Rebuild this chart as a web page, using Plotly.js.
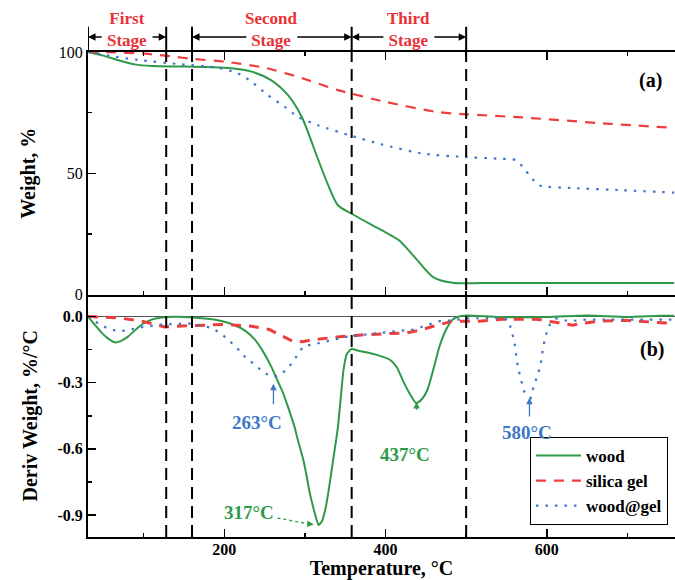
<!DOCTYPE html>
<html>
<head>
<meta charset="utf-8">
<script src="https://cdn.plot.ly/plotly-3.0.1.min.js"></script>
<style>html,body{margin:0;padding:0;background:#fff;}#chart{width:675px;height:580px;}</style>
</head>
<body>
<div id="chart"></div>
<script>
// ---------- data ----------
const seriesNames = ['wood', 'silica gel', 'wood@gel'];

// TG (Weight, %)
const woodTG_T = [31,50,70,89,110,151,201,234,258,279,296,316,329,341,358,384,399,417,438,459,483,520,600,700,758];
const woodTG_W = [100,98.5,96.5,94.9,94.2,94.0,93.5,91.9,88.4,82.2,73.3,56,45,36.8,33.3,28.5,25.8,22.3,14.7,7.2,4.8,4.7,4.7,4.7,4.7];

const silicaTG_T = [31,58,102,137,159,201,250,291,341,399,463,500,570,673,758];
const silicaTG_W = [100,99.9,99.3,98.1,97.2,96.0,93.5,89.8,84.3,79.5,75.3,74.3,73,70.5,68.7];

const wgTG_T = [31,60,93,147,192,217,234,254,275,291,316,358,394,446,496,540,562,572,580,591,632,694,758];
const wgTG_W = [100,98.3,96.7,94.9,93.5,91.2,87.7,82.2,77.4,73.3,69.8,65.4,62,58.1,56.7,56,55.4,51.9,48.5,45,43.9,43,42];

// DTG (Deriv Weight, %/°C)
const woodDTG_T = [31,40,48,56,64,72,81,90,98,110,120,151,192,210,227,238,248,258,266,273,280,287,292,298,302,306,310,314,317,321,325,329,335,341,345,348,352,358,366,376,390,405,414,421,430,438,445,452,460,467,475,483,491,500,541,600,640,660,700,740,758];
const woodDTG_D = [0,-0.04,-0.074,-0.1,-0.117,-0.11,-0.09,-0.06,-0.036,-0.014,-0.005,-0.002,-0.017,-0.035,-0.067,-0.105,-0.158,-0.225,-0.29,-0.347,-0.42,-0.499,-0.57,-0.65,-0.72,-0.8,-0.86,-0.915,-0.945,-0.93,-0.88,-0.8,-0.65,-0.5,-0.347,-0.24,-0.17,-0.147,-0.155,-0.162,-0.175,-0.195,-0.23,-0.286,-0.35,-0.392,-0.375,-0.332,-0.23,-0.135,-0.06,-0.014,0.0,0.005,-0.002,-0.002,0.004,0.004,-0.002,0.004,0.004];

const silicaDTG_T = [31,50,69,98,126,159,201,234,256,270,285,297,310,343,376,426,445,459,483,516,545,587,615,632,640,665,698,739,758];
const silicaDTG_D = [0,-0.003,-0.006,-0.021,-0.047,-0.041,-0.036,-0.044,-0.059,-0.085,-0.112,-0.114,-0.105,-0.092,-0.082,-0.074,-0.06,-0.044,-0.021,-0.021,-0.012,-0.012,-0.029,-0.039,-0.033,-0.021,-0.017,-0.029,-0.032];

const wgDTG_T = [31,44,56,69,81,93,122,159,184,195,205,215,225,238,250,258,263,271,280,287,298,318,351,393,434,467,483,500,537,552,556,560,564,568,572,576,580,584,589,593,595,598,602,611,628,648,681,706,731,758];
const wgDTG_D = [0,-0.032,-0.055,-0.067,-0.062,-0.051,-0.036,-0.032,-0.051,-0.075,-0.105,-0.14,-0.18,-0.22,-0.256,-0.27,-0.272,-0.26,-0.23,-0.195,-0.135,-0.12,-0.092,-0.074,-0.059,-0.021,-0.017,-0.009,-0.006,-0.014,-0.059,-0.12,-0.226,-0.286,-0.34,-0.36,-0.37,-0.312,-0.264,-0.203,-0.15,-0.097,-0.044,-0.009,-0.021,-0.014,-0.014,-0.014,-0.014,-0.014];

// stages (°C)
const stageBounds = [[31,128],[160,358],[358,500]];
const stageNames = ['First', 'Second', 'Third'];
const dashedLines = [128, 160, 358, 500];

// ticks
const xTickVals = [200, 400, 600];
const xTickText = ['200', '400', '600'];
const yTopTickVals = [0, 50, 100];
const yTopTickText = ['0', '50', '100'];
const yBotTickVals = [-0.9, -0.6, -0.3, 0];
const yBotTickText = ['-0.9', '-0.6', '-0.3', '0.0'];

// peak labels
const peakLabels = ['263°C', '317°C', '437°C', '580°C'];

// ---------- styles ----------
const FONT = 'Liberation Serif, Times New Roman, serif';
const GREEN = '#2e9a48';
const RED = '#ee3d3d';
const BLUE = '#3d77c6';
const STAGE_RED = '#e83238';

const traces = [
  {x: woodTG_T, y: woodTG_W, name: seriesNames[0], mode: 'lines', line: {color: GREEN, width: 2, shape: 'spline', smoothing: 0.8}, xaxis: 'x', yaxis: 'y', legendrank: 1},
  {x: silicaTG_T, y: silicaTG_W, name: seriesNames[1], mode: 'lines', line: {color: RED, width: 2.2, dash: '10px,8px', shape: 'spline', smoothing: 0.6}, xaxis: 'x', yaxis: 'y', legendrank: 2},
  {x: wgTG_T, y: wgTG_W, name: seriesNames[2], mode: 'lines', line: {color: BLUE, width: 2.2, dash: '2.5px,7px', shape: 'spline', smoothing: 0.6}, xaxis: 'x', yaxis: 'y', legendrank: 3},
  {x: woodDTG_T, y: woodDTG_D, name: seriesNames[0], mode: 'lines', line: {color: GREEN, width: 2, shape: 'spline', smoothing: 0.6}, xaxis: 'x2', yaxis: 'y2', showlegend: false},
  {x: silicaDTG_T, y: silicaDTG_D, name: seriesNames[1], mode: 'lines', line: {color: RED, width: 3, dash: '10px,8px'}, xaxis: 'x2', yaxis: 'y2', showlegend: false},
  {x: wgDTG_T, y: wgDTG_D, name: seriesNames[2], mode: 'lines', line: {color: BLUE, width: 2.2, dash: '2.5px,7px'}, xaxis: 'x2', yaxis: 'y2', showlegend: false}
];

const shapes = [];
dashedLines.forEach(t => {
  shapes.push({type: 'line', xref: 'x', yref: 'paper', x0: t, x1: t, y0: 0, y1: 1,
    line: {color: 'black', width: 2, dash: '12px,7px'}});
});
// solid stage markers above the plot
const markerSet = [];
stageBounds.forEach(b => { b.forEach(v => { if (markerSet.indexOf(v) < 0) markerSet.push(v); }); });
markerSet.forEach(t => {
  shapes.push({type: 'line', xref: 'x', yref: 'paper', x0: t, x1: t, y0: 1, y1: 1.052,
    line: {color: 'black', width: 2}});
});
// dotted arrow line for 317 °C
shapes.push({type: 'line', xref: 'x2', yref: 'y2', x0: 266, y0: -0.914, x1: 304, y1: -0.94,
  line: {color: GREEN, width: 1.3, dash: 'dot'}});

const annotations = [];
const ARROW_Y = 1.031;
stageBounds.forEach((b, i) => {
  const c = (b[0] + b[1]) / 2;
  [b[0], b[1]].forEach(h => {
    annotations.push({xref: 'x', yref: 'paper', x: h, y: ARROW_Y, axref: 'x', ayref: 'pixel',
      ax: c, ay: 0, text: '', showarrow: true, arrowhead: 2, arrowsize: 1, arrowwidth: 1.5,
      arrowcolor: 'black', startstandoff: 24, standoff: 0});
  });
  annotations.push({xref: 'x', yref: 'paper', x: c, y: 1.046, text: stageNames[i] + '<br>Stage',
    showarrow: false, xanchor: 'center', yanchor: 'middle',
    font: {family: FONT, size: 17, color: STAGE_RED, weight: 'bold'}});
});

function peakText(x, y, txt, color) {
  annotations.push({xref: 'x2', yref: 'y2', x: x, y: y, text: txt, showarrow: false,
    xanchor: 'center', yanchor: 'middle', font: {family: FONT, size: 19, color: color, weight: 'bold'}});
}
function peakArrow(x, y, ax, ay, color) {
  annotations.push({xref: 'x2', yref: 'y2', x: x, y: y, axref: 'x2', ayref: 'y2', ax: ax, ay: ay,
    text: '', showarrow: true, arrowhead: 2, arrowsize: 1, arrowwidth: 1.3, arrowcolor: color, standoff: 0});
}
peakText(240, -0.482, peakLabels[0], BLUE);
peakArrow(261, -0.305, 261, -0.405, BLUE);
peakText(231, -0.891, peakLabels[1], GREEN);
peakArrow(311, -0.943, 302, -0.94, GREEN);
peakText(424, -0.627, peakLabels[2], GREEN);
peakArrow(438.5, -0.388, 438.5, -0.43, GREEN);
peakText(576, -0.527, peakLabels[3], BLUE);
peakArrow(578.5, -0.368, 578.5, -0.46, BLUE);

annotations.push({xref: 'x', yref: 'y', x: 729, y: 88.4, text: '(a)', showarrow: false,
  font: {family: FONT, size: 20, color: 'black', weight: 'bold'}});
annotations.push({xref: 'x2', yref: 'y2', x: 731, y: -0.15, text: '(b)', showarrow: false,
  font: {family: FONT, size: 20, color: 'black', weight: 'bold'}});

const xRange = [31, 759];
const axisCommon = {showgrid: false, zeroline: false, showline: true, linecolor: 'black', linewidth: 2,
  ticks: 'inside', ticklen: 8, tickwidth: 1.5, tickcolor: 'black'};

const layout = {
  width: 675, height: 580,
  margin: {l: 88, r: 0, t: 52, b: 43},
  paper_bgcolor: 'white', plot_bgcolor: 'white',
  font: {family: FONT, color: 'black'},
  showlegend: true,
  legend: {x: 0.988, y: 0.025, xanchor: 'right', yanchor: 'bottom', bgcolor: 'white',
    bordercolor: 'black', borderwidth: 1, itemwidth: 45, tracegroupgap: 0,
    font: {family: FONT, size: 17, color: 'black', weight: 'bold'}},
  xaxis: Object.assign({}, axisCommon, {domain: [0, 1], anchor: 'y', range: xRange,
    tickmode: 'array', tickvals: xTickVals, ticktext: xTickText, showticklabels: false, mirror: 'ticks',
    minor: {dtick: 100, tick0: 0, ticks: 'inside', ticklen: 4, tickwidth: 1.5, tickcolor: 'black'}}),
  yaxis: Object.assign({}, axisCommon, {domain: [0.5, 1], anchor: 'x', range: [0, 100],
    tickmode: 'array', tickvals: yTopTickVals, ticktext: yTopTickText,
    tickfont: {family: FONT, size: 16, color: 'black'},
    minor: {dtick: 25, tick0: 0, ticks: 'inside', ticklen: 4, tickwidth: 1.5, tickcolor: 'black'},
    title: {text: 'Weight, %', standoff: 18, font: {family: FONT, size: 20, color: 'black', weight: 'bold'}}}),
  xaxis2: Object.assign({}, axisCommon, {domain: [0, 1], anchor: 'y2', range: xRange,
    tickmode: 'array', tickvals: xTickVals, ticktext: xTickText, mirror: false,
    ticklabelstandoff: -3,
    tickfont: {family: FONT, size: 16, color: 'black', weight: 'bold'},
    minor: {dtick: 100, tick0: 0, ticks: 'inside', ticklen: 4, tickwidth: 1.5, tickcolor: 'black'},
    title: {text: 'Temperature, °C', standoff: 4, font: {family: FONT, size: 20, color: 'black', weight: 'bold'}}}),
  yaxis2: Object.assign({}, axisCommon, {domain: [0, 0.5], anchor: 'x2', range: [-1.0, 0.1],
    tickmode: 'array', tickvals: yBotTickVals, ticktext: yBotTickText,
    zeroline: true, zerolinecolor: '#555', zerolinewidth: 1.5,
    tickfont: {family: FONT, size: 16, color: 'black', weight: 'bold'},
    minor: {dtick: 0.15, tick0: 0, ticks: 'inside', ticklen: 4, tickwidth: 1.5, tickcolor: 'black'},
    title: {text: 'Deriv Weight, %/°C', standoff: 14, font: {family: FONT, size: 20, color: 'black', weight: 'bold'}}}),
  shapes: shapes,
  annotations: annotations
};

Plotly.newPlot('chart', traces, layout, {displayModeBar: false, staticPlot: true});
</script>
</body>
</html>
